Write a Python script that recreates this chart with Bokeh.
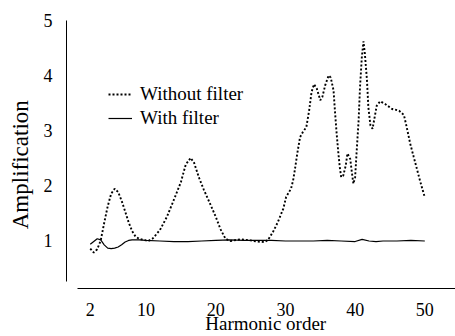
from bokeh.plotting import figure
from bokeh.models import FixedTicker, Range1d, Legend, LegendItem
from bokeh.embed import file_html
from bokeh.resources import INLINE

# Harmonic order / amplification, without filter (dotted)
harm_without = [2, 2.5, 3, 3.5, 4, 4.5, 5, 5.5, 6, 6.5, 7, 7.5, 8, 8.5, 9, 10, 10.5, 11,
                12, 13, 14, 15, 15.7, 16.4, 16.9, 17.6, 18.3, 19.25, 20, 20.7, 21.4, 22.1,
                23.5, 25, 26, 27, 27.5, 28.2, 28.9, 29.7, 30.1, 30.8, 31.1, 31.3, 31.7,
                32.1, 32.5, 33.0, 33.4, 33.75, 34.1, 34.5, 35.0, 35.3, 35.7, 36.2, 36.5,
                36.9, 37.1, 37.35, 37.6, 37.8, 38.0, 38.3, 38.65, 38.9, 39.3, 39.5, 39.75,
                40.0, 40.2, 40.5, 40.7, 40.96, 41.2, 41.4, 41.7, 41.9, 42.2, 42.5, 42.8,
                43.1, 43.6, 44.3, 45.3, 46.3, 47.0, 47.4, 47.9, 48.4, 48.8, 49.3, 50]
amp_without = [0.85, 0.78, 0.84, 1.0, 1.32, 1.62, 1.85, 1.94, 1.88, 1.72, 1.53, 1.33, 1.17,
               1.07, 1.03, 1.0, 1.0, 1.04, 1.19, 1.43, 1.74, 2.06, 2.38, 2.5, 2.41, 2.14,
               1.92, 1.65, 1.43, 1.2, 1.03, 0.99, 1.02, 1.0, 0.98, 0.97, 1.01, 1.15, 1.33,
               1.58, 1.79, 1.94, 2.09, 2.24, 2.58, 2.88, 2.97, 3.06, 3.36, 3.7, 3.84, 3.76,
               3.55, 3.61, 3.82, 4.0, 3.96, 3.73, 3.36, 2.94, 2.58, 2.33, 2.15, 2.18, 2.36,
               2.58, 2.48, 2.27, 2.03, 2.15, 2.58, 3.18, 3.79, 4.33, 4.62, 4.39, 3.91, 3.42,
               3.09, 3.03, 3.24, 3.45, 3.53, 3.48, 3.39, 3.36, 3.28, 3.06, 2.76, 2.52, 2.33,
               2.09, 1.78]

# With filter (solid)
harm_with = [2, 2.5, 3, 3.5, 4, 4.5, 5, 5.5, 6, 6.5, 7, 7.5, 8, 9, 10, 12, 14, 16, 18, 20,
             22, 24, 26, 28, 30, 32, 34, 36, 38, 40, 41, 42, 43, 44, 46, 48, 50]
amp_with = [0.93, 0.98, 1.03, 1.01, 0.92, 0.86, 0.85, 0.86, 0.88, 0.92, 0.97, 1.0, 1.01,
            1.01, 1.0, 0.99, 0.98, 0.98, 0.99, 1.0, 1.01, 1.0, 1.0, 1.0, 0.99, 0.99, 0.99,
            1.0, 0.99, 0.98, 1.02, 0.99, 0.98, 0.99, 0.99, 1.0, 0.99]

x_ticks = [2, 10, 20, 30, 40, 50]
y_ticks = [1, 2, 3, 4, 5]

FONT = "Liberation Serif"
NBSP = "\u00a0"

p = figure(width=455, height=336, output_backend="svg", toolbar_location=None,
           x_range=Range1d(-1.41, 54.4), y_range=Range1d(0.126, 5.253),
           min_border_left=66, min_border_right=0, min_border_top=6, min_border_bottom=43,
           background_fill_color="white", border_fill_color="white")
p.outline_line_color = None
p.grid.visible = False

r_without = p.line(harm_without, amp_without, line_color="black", line_width=1.9,
                   line_dash="2 2")
r_with = p.line(harm_with, amp_with, line_color="black", line_width=1.2)

for ax in (p.xaxis[0], p.yaxis[0]):
    ax.major_tick_line_color = None
    ax.minor_tick_line_color = None
    ax.axis_line_color = "black"
    ax.axis_line_width = 1
    ax.major_label_text_font = FONT
    ax.major_label_text_font_size = "18px"
    ax.major_label_text_color = "black"
    ax.axis_label_text_font = FONT
    ax.axis_label_text_font_style = "normal"
    ax.axis_label_text_color = "black"

p.xaxis.ticker = FixedTicker(ticks=x_ticks)
p.yaxis.ticker = FixedTicker(ticks=y_ticks)
p.xaxis.bounds = (0.17, 60)
p.yaxis.bounds = (0.258, 5)

# leading / trailing no-break spaces nudge the centred titles along their axes
p.xaxis.axis_label = NBSP * 2 + "Harmonic order"
p.xaxis.axis_label_text_font_size = "19px"
p.xaxis.major_label_standoff = 8
p.xaxis.axis_label_standoff = -6

p.yaxis.axis_label = "Amplification" + NBSP * 6
p.yaxis.axis_label_text_font_size = "23px"
p.yaxis.major_label_standoff = 8
p.yaxis.axis_label_standoff = 8

legend = Legend(items=[LegendItem(label="Without filter", renderers=[r_without]),
                       LegendItem(label="With filter", renderers=[r_with])],
                location=(42, 158), padding=0, spacing=0, margin=0,
                glyph_width=24, glyph_height=20, label_height=24, label_standoff=8,
                label_text_font=FONT, label_text_font_size="19px",
                label_text_color="black",
                border_line_color=None, background_fill_alpha=0)
p.add_layout(legend)

open("out.html", "w").write(file_html(p, INLINE))
